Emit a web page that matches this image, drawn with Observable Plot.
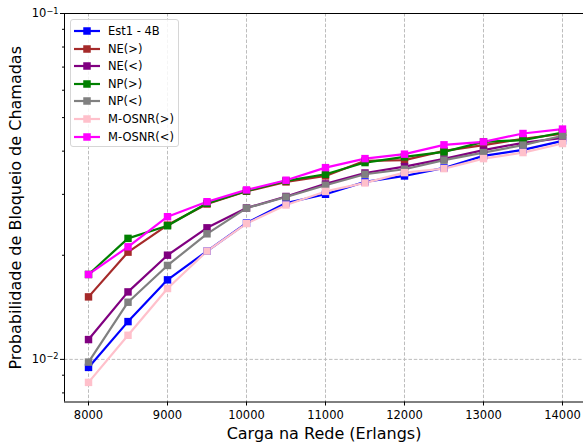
<!DOCTYPE html>
<html>
<head>
<meta charset="utf-8">
<script src="https://cdn.jsdelivr.net/npm/d3@7"></script>
<script src="https://cdn.jsdelivr.net/npm/@observablehq/plot@0.6"></script>
<style>
  html, body { margin: 0; padding: 0; background: #fff; }
  #wrap { position: relative; width: 583px; height: 445px; font-family: "DejaVu Sans", sans-serif; }
  #legend { position: absolute; left: 70px; top: 19px; width: 107px; height: 126px;
    border: 1px solid #d6d6d6; border-radius: 3px; background: rgba(255,255,255,0.85); }
  .row { position: absolute; left: 0; height: 16px; display: flex; align-items: center; }
  .row svg { display: block; }
  .row span { font-size: 11.5px; color: #000; margin-left: 8px; white-space: nowrap; }
</style>
</head>
<body>
<div id="wrap"><div id="chart"></div><div id="legend"></div></div>
<script>
// ---- data ----
const loads = [8000, 8500, 9000, 9500, 10000, 10500, 11000, 11500, 12000, 12500, 13000, 13500, 14000];
const seriesNames = ["Est1 - 4B", "NE(>)", "NE(<)", "NP(>)", "NP(<)", "M-OSNR(>)", "M-OSNR(<)"];
const seriesColors = ["#0000ff", "#a52a2a", "#800080", "#008000", "#808080", "#ffc0cb", "#ff00ff"];
const est1   = [0.00948, 0.01286, 0.01698, 0.02056, 0.02478, 0.02832, 0.03002, 0.03259, 0.03391, 0.03577, 0.03877, 0.04035, 0.04284];
const neGt   = [0.01516, 0.02042, 0.02445, 0.02813, 0.03062, 0.03259, 0.03391, 0.03750, 0.03767, 0.04007, 0.04164, 0.04342, 0.04490];
const neLt   = [0.01141, 0.01567, 0.02001, 0.02401, 0.02740, 0.02958, 0.03216, 0.03459, 0.03608, 0.03798, 0.04026, 0.04228, 0.04371];
const npGt   = [0.01760, 0.02238, 0.02434, 0.02826, 0.03069, 0.03282, 0.03430, 0.03707, 0.03850, 0.03981, 0.04256, 0.04304, 0.04529];
const npLt   = [0.00982, 0.01463, 0.01869, 0.02307, 0.02737, 0.02948, 0.03188, 0.03430, 0.03546, 0.03767, 0.03962, 0.04164, 0.04430];
const osnrGt = [0.00858, 0.01174, 0.01603, 0.02056, 0.02470, 0.02795, 0.03059, 0.03237, 0.03467, 0.03561, 0.03806, 0.03962, 0.04208];
const osnrLt = [0.01760, 0.02116, 0.02585, 0.02857, 0.03090, 0.03296, 0.03584, 0.03806, 0.03920, 0.04172, 0.04256, 0.04498, 0.04633];
const seriesValues = [est1, neGt, neLt, npGt, npLt, osnrGt, osnrLt];
const xTicks = [8000, 9000, 10000, 11000, 12000, 13000, 14000];
const yMajor = [0.01, 0.1];
const yMinor = [0.008, 0.009, 0.02, 0.03, 0.04, 0.05, 0.06, 0.07, 0.08, 0.09];
const xDomain = [7696, 14266];
const yDomain = [0.00753, 0.1];
const xLabel = "Carga na Rede (Erlangs)";
const yLabel = "Probabilidade de Bloqueio de Chamadas";

const table = seriesNames.flatMap((name, i) =>
  loads.map((x, j) => ({ series: name, x, y: seriesValues[i][j] })));

const fmtPow = d => "10^" + Math.round(Math.log10(d));

const chart = Plot.plot({
  width: 583, height: 445,
  marginLeft: 64, marginRight: 0, marginTop: 13, marginBottom: 43.5,
  style: { fontFamily: "DejaVu Sans, sans-serif", background: "#fff", color: "#000" },
  x: { domain: xDomain },
  y: { type: "log", domain: yDomain },
  color: { domain: seriesNames, range: seriesColors },
  marks: [
    Plot.gridX(xTicks, { stroke: "#bdbdbd", strokeOpacity: 1, strokeWidth: 1, strokeDasharray: "3.5,1.8" }),
    Plot.gridY(yMajor, { stroke: "#bdbdbd", strokeOpacity: 1, strokeWidth: 1, strokeDasharray: "3.5,1.8" }),
    Plot.line(table, { x: "x", y: "y", z: "series", stroke: "series", strokeWidth: 2.2 }),
    Plot.dot(table, { x: "x", y: "y", fill: "series", symbol: "square", r: 4.2, stroke: "none" }),
    Plot.ruleX([xDomain[0]], { stroke: "#000", strokeWidth: 1 }),
    Plot.ruleY(yDomain, { stroke: "#000", strokeWidth: 1 }),
    Plot.axisX(xTicks, { tickSize: 4, tickPadding: 5, fontSize: 11.5, label: null, tickFormat: d => String(d) }),
    Plot.axisY(yMajor, { tickSize: 4, tickPadding: 2, fontSize: 11.5, label: null, tickFormat: fmtPow }),
    Plot.axisY(yMinor, { tickSize: 2, label: null, tickFormat: () => "" }),
    Plot.text([xLabel], { frameAnchor: "bottom", dy: 32, fontSize: 16, lineAnchor: "middle", textAnchor: "middle" }),
    Plot.text([yLabel], { frameAnchor: "left", dx: -49, rotate: -90, fontSize: 16, lineAnchor: "middle", textAnchor: "middle" })
  ]
});
document.getElementById("chart").appendChild(chart);

// render power-of-ten tick labels with a real superscript
chart.querySelectorAll("text").forEach(t => {
  const m = /^10\^(-?\d+)$/.exec(t.textContent);
  if (!m) return;
  t.textContent = "10";
  const ns = "http://www.w3.org/2000/svg";
  const ts = document.createElementNS(ns, "tspan");
  ts.setAttribute("dy", "-0.45em");
  ts.setAttribute("font-size", "8.2px");
  ts.textContent = m[1].replace("-", "\u2212");
  t.appendChild(ts);
});

// legend
const legend = document.getElementById("legend");
seriesNames.forEach((name, i) => {
  const row = document.createElement("div");
  row.className = "row";
  row.style.top = (3 + i * 17.6) + "px";
  row.style.left = "3px";
  const ns = "http://www.w3.org/2000/svg";
  const s = document.createElementNS(ns, "svg");
  s.setAttribute("width", "26"); s.setAttribute("height", "16");
  const l = document.createElementNS(ns, "line");
  l.setAttribute("x1", "0"); l.setAttribute("x2", "26"); l.setAttribute("y1", "8"); l.setAttribute("y2", "8");
  l.setAttribute("stroke", seriesColors[i]); l.setAttribute("stroke-width", "2.2");
  const r = document.createElementNS(ns, "rect");
  r.setAttribute("x", "9.25"); r.setAttribute("y", "4.25"); r.setAttribute("width", "7.5"); r.setAttribute("height", "7.5");
  r.setAttribute("fill", seriesColors[i]);
  s.appendChild(l); s.appendChild(r);
  const t = document.createElement("span");
  t.textContent = name;
  row.appendChild(s); row.appendChild(t);
  legend.appendChild(row);
});
</script>
</body>
</html>
